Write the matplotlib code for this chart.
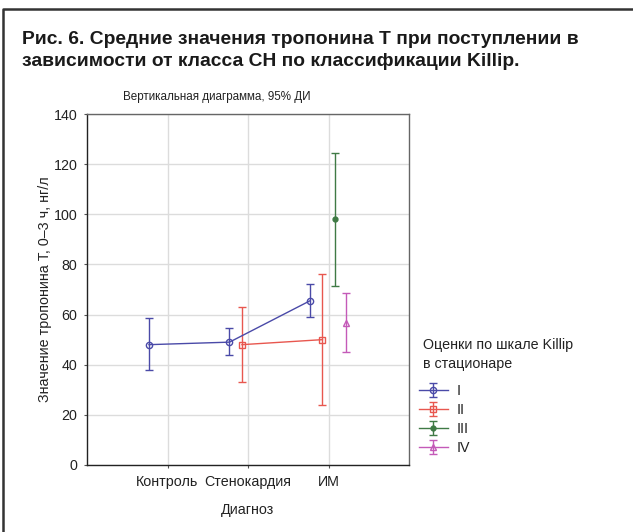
import matplotlib
matplotlib.use("Agg")
import matplotlib.pyplot as plt
from matplotlib.lines import Line2D
import numpy as np

plt.rcParams['font.family'] = ['Liberation Sans', 'DejaVu Sans']

categories = ["Контроль", "Стенокардия", "ИМ"]
series_names = ["I", "II", "III", "IV"]
# mean, lower CI, upper CI per category (None = absent)
means = {
    "I":   [48, 49, 65.5],
    "II":  [None, 48, 50],
    "III": [None, None, 98],
    "IV":  [None, None, 56.5],
}
lower = {
    "I":   [38, 44, 59],
    "II":  [None, 33, 24],
    "III": [None, None, 71.5],
    "IV":  [None, None, 45],
}
upper = {
    "I":   [58.5, 54.5, 72],
    "II":  [None, 63, 76],
    "III": [None, None, 124.5],
    "IV":  [None, None, 68.5],
}
yticks = [0, 20, 40, 60, 80, 100, 120, 140]

colors = {"I": "#4a4aa8", "II": "#e8574f", "III": "#3f7a45", "IV": "#c45ab8"}
markers = {"I": "o", "II": "s", "III": "o", "IV": "^"}
msizes = {"I": 4.5, "II": 5, "III": 3.5, "IV": 5}
mfc = {"I": "none", "II": "none", "III": "#3f7a45", "IV": "none"}
offsets = {"I": -0.23, "II": -0.075, "III": 0.075, "IV": 0.22}

W, H = 633, 532
fs = 10.3
fig = plt.figure(figsize=(W / 100, H / 100), dpi=100)
ax = fig.add_axes([87 / W, 1 - 465 / H, (409 - 87) / W, (465 - 114) / H])

handles = []
for s in series_names:
    xs, ys, lo, hi = [], [], [], []
    for i, m in enumerate(means[s]):
        if m is None:
            continue
        xs.append(i + offsets[s])
        ys.append(m)
        lo.append(m - lower[s][i])
        hi.append(upper[s][i] - m)
    c = colors[s]
    eb = ax.errorbar(xs, ys, yerr=[lo, hi], color=c, lw=1.0, elinewidth=1.0,
                     capsize=3, capthick=1.0, marker=markers[s], ms=msizes[s],
                     mfc=mfc[s], mec=c, mew=1.0, label=s, zorder=3)
    handles.append(eb)

ax.set_xlim(-1, 3)
ax.set_ylim(0, 140)
ax.set_xticks(range(len(categories)))
ax.set_xticklabels(categories, fontsize=fs, color="#222222")
ax.set_yticks(yticks)
ax.set_yticklabels([str(t) for t in yticks], fontsize=fs, color="#222222")
ax.grid(True, color="#dcdcdc", lw=1.0, zorder=0)
ax.set_axisbelow(True)
ax.tick_params(axis='both', length=2, width=0.8, color="#555555", pad=5)
for sp in ["left", "bottom"]:
    ax.spines[sp].set_color("#222222")
    ax.spines[sp].set_linewidth(1.0)
for sp in ["top", "right"]:
    ax.spines[sp].set_color("#666666")
    ax.spines[sp].set_linewidth(1.0)

ax.set_xlabel("Диагноз", fontsize=fs, color="#222222", labelpad=10)
ax.set_ylabel("Значение тропонина Т, 0–3 ч, нг/л", fontsize=fs, color="#222222", labelpad=1)

fig.text(22 / W, 1 - 40 / H, "Рис. 6. Средние значения тропонина Т при поступлении в",
         fontsize=13.9, fontweight="bold", va="center", ha="left", color="#1a1a1a")
fig.text(22 / W, 1 - 62 / H, "зависимости от класса СН по классификации Killip.",
         fontsize=13.9, fontweight="bold", va="center", ha="left", color="#1a1a1a")
fig.text(217 / W, 1 - 97 / H, "Вертикальная диаграмма, 95% ДИ",
         fontsize=8.4, va="center", ha="center", color="#222222")

fig.text(423 / W, 1 - 345 / H, "Оценки по шкале Killip", fontsize=fs,
         va="center", ha="left", color="#222222")
fig.text(423 / W, 1 - 364 / H, "в стационаре", fontsize=fs,
         va="center", ha="left", color="#222222")

leg = fig.legend(handles=handles, labels=series_names, loc="upper left",
                 bbox_to_anchor=(419 / W, 1 - 384 / H), frameon=False,
                 fontsize=fs, handlelength=2.0, handletextpad=0.6,
                 labelspacing=0.35, borderaxespad=0, borderpad=0)
for t in leg.get_texts():
    t.set_color("#222222")

# outer frame (left and top)
fig.add_artist(Line2D([3 / W, 3 / W, 1.0], [0.0, 1 - 9 / H, 1 - 9 / H],
                      color="#333333", lw=1.8, transform=fig.transFigure))

fig.savefig("out.png", dpi=100)
